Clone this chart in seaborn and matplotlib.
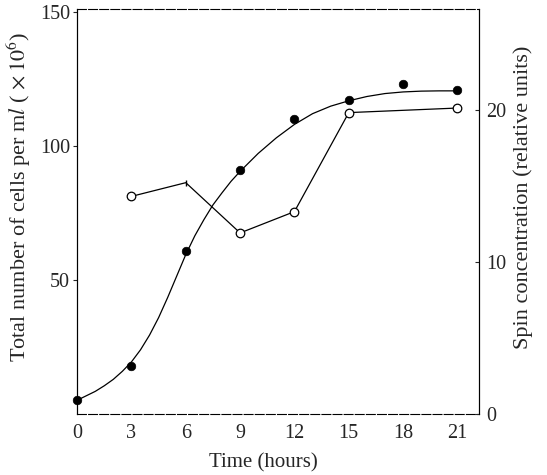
import matplotlib
matplotlib.use("Agg")
import matplotlib.pyplot as plt
import seaborn as sns
import pandas as pd

# Cell counts (filled dots), x 10^6 per ml
cell_time = [0, 3, 6, 9, 12, 15, 18, 21]
cell_count = [5.2, 18, 61, 91, 110, 117, 123, 121]

# Hand-drawn smooth growth curve through the cell counts
curve_time = [0, 1, 1.5, 2, 2.5, 3, 3.5, 4, 4.5, 5, 5.5, 6, 6.5, 7, 7.5, 8, 8.5, 9,
              10, 11, 12, 13, 14, 15, 16, 17, 18, 19, 20, 21]
curve_count = [5.2, 8.5, 10.6, 13, 16, 19.5, 24, 29.5, 36, 43.5, 51.5, 59.5, 66.5, 72.5,
               78, 82.5, 86.8, 90.5, 97.2, 103, 108, 112, 114.8, 116.8, 118.4, 119.5,
               120.1, 120.4, 120.5, 120.5]

# Spin concentration (open circles), relative units
spin_time = [3, 6, 9, 12, 15, 21]
spin_conc = [14.3, 15.2, 11.9, 13.3, 19.8, 20.1]
spin_circle = [True, False, True, True, True, True]

sns.set_style("ticks")
plt.rcParams['font.family'] = ['Liberation Serif', 'DejaVu Serif']
plt.rcParams['mathtext.fontset'] = 'stix'

fig = plt.figure(figsize=(5.47, 4.75), dpi=100)
ax = fig.add_axes([0.141, 0.128, 0.735, 0.853])
ax2 = ax.twinx()

sns.lineplot(x=curve_time, y=curve_count, ax=ax, color='black', lw=0.9)
sns.scatterplot(x=cell_time, y=cell_count, ax=ax, color='black', s=38,
                edgecolor='black', zorder=5, clip_on=False)

sns.lineplot(x=spin_time, y=spin_conc, ax=ax2, color='black', lw=0.9)
df = pd.DataFrame({'t': spin_time, 'c': spin_conc, 'circ': spin_circle})
sns.scatterplot(data=df[df.circ], x='t', y='c', ax=ax2, color='white', s=38,
                edgecolor='black', linewidth=0.9, zorder=5)
ax2.plot(df[~df.circ].t, df[~df.circ].c, marker='|', ms=4, color='black', lw=0)

ax.set_xlim(0, 22.2)
ax.set_ylim(0, 151)
ax2.set_ylim(0, 26.6)

ax.set_xticks([0, 3, 6, 9, 12, 15, 18, 21])
ax.set_yticks([50, 100, 150])
ax2.set_yticks([0, 10, 20])

ax.tick_params(axis='x', length=0, pad=7, labelsize=14.5)
ax.tick_params(axis='y', length=3, width=0.8, pad=2, direction='out', labelsize=14.5)
ax2.tick_params(axis='y', length=3, width=0.8, pad=5, direction='in', labelsize=14.5)

for a in (ax, ax2):
    for s in a.spines.values():
        s.set_linewidth(0.8)
        s.set_color('black')
ax.spines['top'].set_linestyle((0, (8, 2)))
ax.spines['bottom'].set_linestyle((0, (8, 2)))
ax2.spines['top'].set_visible(False)
ax2.spines['bottom'].set_visible(False)

ax.set_xlabel('Time (hours)', fontsize=15)
ax.xaxis.set_label_coords(0.463, -0.096)
ax.set_ylabel(r'Total number of cells per m$\mathit{l}$ ($\,\times10^6$)', fontsize=16)
ax.yaxis.set_label_coords(-0.109, 0.536)
ax2.set_ylabel('Spin concentration (relative units)', fontsize=16)
ax2.yaxis.set_label_coords(1.085, 0.536)

fig.savefig('out.png', dpi=100)
